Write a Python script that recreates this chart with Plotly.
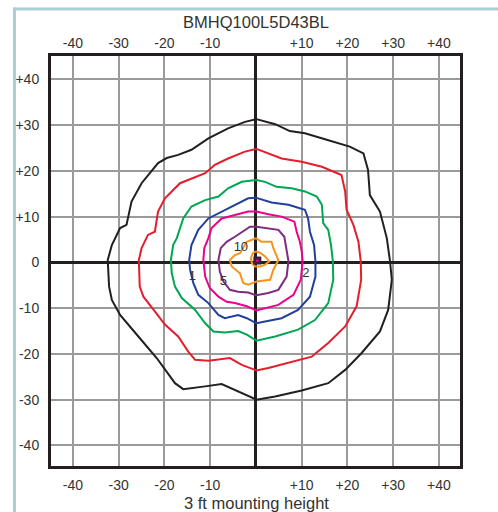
import plotly.graph_objects as go

# контуры освещённости (фут-свечи), координаты в футах
black_x = [0.1, 4.2, 7.4, 10.7, 15.1, 20.5, 23.5, 24.5, 24.9, 27.1, 28.6, 29.3, 29.7, 28.9, 27.1, 23.1, 19.5, 15.8, 10.0, 4.2, 0.1,
           -3.1, -7.5, -11.1, -15.9, -17.7, -19.9, -21.7, -25.7, -29.7, -31.5, -32.1, -32.4, -31.5, -29.7, -28.3, -27.2, -25.0,
           -21.4, -19.5, -17.0, -14.1, -10.4, -6.1, -2.4, 0.1]
black_y = [31.3, 30.2, 28.7, 28.2, 26.9, 25.3, 23.8, 20.2, 14.7, 11.1, 5.3, 0.3, -3.8, -10.4, -15.1, -19.8, -23.5, -26.4, -28.0, -29.3, -30.0,
           -28.6, -26.6, -27.1, -27.7, -26.4, -23.5, -20.9, -16.2, -11.5, -8.2, -5.3, 0.5, 3.8, 7.5, 8.2, 13.3, 17.3,
           21.7, 22.8, 23.5, 24.6, 27.1, 29.3, 30.7, 31.3]

red_x = [0.1, 2.7, 5.6, 10.0, 14.4, 18.7, 19.5, 19.8, 21.3, 22.4, 22.9, 23.0, 22.0, 19.5, 15.8, 12.2, 7.1, 2.7, 0.1,
         -3.1, -5.7, -8.2, -10.4, -13.3, -14.8, -17.0, -19.9, -22.1, -24.6, -25.4, -25.6, -25.0, -23.6, -22.1, -21.4, -19.9,
         -16.6, -11.1, -9.0, -6.1, -2.4, 0.1]
red_y = [24.8, 23.8, 22.7, 22.0, 20.9, 19.1, 15.5, 11.5, 8.2, 4.5, 0.3, -3.8, -9.6, -14.0, -17.6, -20.6, -22.0, -23.1, -23.6,
         -22.4, -20.9, -21.3, -21.5, -21.3, -19.5, -16.2, -13.6, -10.7, -7.5, -5.3, 0.5, 3.1, 6.0, 6.7, 11.1, 14.0,
         17.3, 19.5, 21.3, 22.7, 24.2, 24.8]

green_x = [0.1, 2.0, 4.5, 7.8, 10.7, 13.3, 14.4, 14.7, 15.8, 16.4, 16.8, 16.9, 15.8, 12.9, 9.2, 4.2, 0.1,
           -2.0, -3.9, -6.8, -9.3, -11.1, -13.3, -16.2, -17.7, -18.4, -18.6, -18.1, -17.3, -15.9, -14.1, -11.1, -8.2,
           -6.1, -3.1, 0.1]
green_y = [18.0, 17.6, 16.5, 16.2, 15.5, 14.4, 12.6, 8.6, 7.1, 3.8, 0.3, -3.8, -8.9, -12.6, -14.7, -16.2, -17.1,
           -15.8, -15.0, -15.3, -15.1, -13.3, -10.4, -7.8, -5.3, -2.4, 0.5, 3.8, 5.3, 9.6, 12.2, 13.6, 14.4,
           16.2, 17.6, 18.0]

blue_x = [0.1, 3.4, 7.1, 10.7, 11.4, 11.8, 12.7, 13.0, 13.0, 11.8, 9.2, 5.6, 0.1,
          -2.0, -3.9, -6.8, -8.2, -10.4, -12.6, -13.7, -14.4, -14.6, -14.1, -12.6, -10.4, -7.5, -4.6, -1.7, 0.1]
blue_y = [14.1, 13.1, 12.6, 11.5, 9.6, 6.7, 3.8, 0.3, -3.1, -7.5, -10.4, -12.2, -13.3,
          -12.2, -11.5, -12.2, -11.5, -8.9, -7.1, -4.5, -1.6, 0.5, 3.8, 7.1, 9.6, 11.1, 12.6, 14.0, 14.1]

magenta_x = [0.1, 2.7, 5.6, 8.4, 8.9, 9.6, 10.0, 10.2, 9.8, 8.2, 4.9, 0.1,
             -2.0, -4.6, -6.4, -8.2, -10.1, -11.1, -11.5, -11.3, -10.4, -9.7, -7.5, -4.6, -1.7, 0.1]
magenta_y = [11.1, 10.5, 10.0, 8.9, 6.7, 4.5, 2.4, 0.3, -3.8, -7.1, -9.3, -10.5,
             -9.6, -8.9, -8.6, -7.5, -5.6, -3.1, 0.5, 3.1, 5.3, 7.5, 9.6, 10.4, 11.1, 11.1]

purple_x = [0.1, 2.3, 4.9, 6.2, 6.7, 7.1, 6.7, 4.9, 2.7, 0.1,
            -1.7, -3.9, -5.7, -7.1, -7.9, -8.2, -7.7, -6.4, -4.6, -2.8, -1.3, 0.1]
purple_y = [7.8, 7.5, 7.1, 5.6, 3.1, 0.3, -3.1, -6.0, -6.7, -7.2,
            -6.6, -6.4, -6.0, -4.2, -2.0, 0.5, 3.1, 4.5, 5.6, 6.7, 7.8, 7.8]

orange_x = [0.0, 1.2, 3.4, 3.8, 4.9, 3.8, 3.1, 0.1, -1.7, -2.8, -3.5, -5.3, -5.7, -4.6, -3.5, -2.0, 0.0]
orange_y = [5.3, 4.5, 4.5, 3.1, 0.5, -1.6, -3.8, -4.2, -4.9, -4.5, -2.4, -0.9, 0.5, 1.6, 2.0, 4.5, 5.3]

orange_in_x = [0.0, 0.9, 2.0, 2.9, 2.0, 0.9, -0.2, -0.9, -1.1, -0.7, 0.0]
orange_in_y = [2.4, 2.1, 1.3, 0.2, -0.5, -0.9, -0.9, -0.2, 0.9, 2.0, 2.4]

contours = [
    (black_x, black_y, "#231f20"),
    (red_x, red_y, "#e31e2d"),
    (green_x, green_y, "#00a651"),
    (blue_x, blue_y, "#21409a"),
    (magenta_x, magenta_y, "#ec008c"),
    (purple_x, purple_y, "#7f2c7f"),
    (orange_x, orange_y, "#f7941d"),
    (orange_in_x, orange_in_y, "#f7941d"),
]

# подписи уровней
label_text = ["10", "1", "5", "2"]
label_x = [-3.3, -13.9, -7.1, 10.9]
label_y = [3.3, -3.1, -4.2, -2.5]

ticks = [-40, -30, -20, -10, 10, 20, 30, 40]
tick_text = ["-40", "-30", "-20", "-10", "+10", "+20", "+30", "+40"]
yticks = [-40, -30, -20, -10, 0, 10, 20, 30, 40]
ytick_text = ["-40", "-30", "-20", "-10", "0", "+10", "+20", "+30", "+40"]

fig = go.Figure()

for cx, cy, col in contours:
    fig.add_trace(go.Scatter(x=cx, y=cy, mode="lines", line=dict(color=col, width=2),
                             hoverinfo="skip", showlegend=False))

fig.add_trace(go.Scatter(x=[0.3], y=[0.4], mode="markers",
                         marker=dict(symbol="square", size=8, color="#3b1f3b"), showlegend=False))
fig.add_trace(go.Scatter(x=[0.3], y=[0.4], mode="markers",
                         marker=dict(symbol="circle", size=3, color="#ec008c"), showlegend=False))

fig.add_trace(go.Scatter(x=label_x, y=label_y, mode="text", text=label_text,
                         textfont=dict(size=13, color="#333333"), showlegend=False))

fig.add_trace(go.Scatter(x=[0], y=[0], xaxis="x2", mode="markers",
                         marker=dict(opacity=0), showlegend=False, hoverinfo="skip"))

font = dict(family="Liberation Sans, Arial, sans-serif", size=14, color="#333333")

W, H = 498, 512
L, T, B = 51, 56, 466  # края области построения в пикселях
PW, PH = 409, 410


def px(x):
    return (x - L) / PW


def py(y):
    return (B - y) / PH


fig.update_layout(
    width=W, height=H,
    margin=dict(l=L, r=W - L - PW, t=T, b=H - B, autoexpand=False),
    paper_bgcolor="white", plot_bgcolor="white",
    font=font,
    title=dict(text="BMHQ100L5D43BL", x=256 / W, xanchor="center", y=1 - 22 / H, yanchor="middle",
               font=dict(size=16.5, color="#333333")),
    xaxis=dict(range=[-44.8, 44.6], tickvals=ticks, ticktext=tick_text, automargin=False,
               showgrid=True, gridcolor="#9a9a9a", gridwidth=1.5,
               zeroline=True, zerolinecolor="#231f20", zerolinewidth=2.5,
               showline=True, linecolor="#231f20", linewidth=3, mirror=True,
               ticks="outside", ticklen=4, tickcolor="rgba(0,0,0,0)", fixedrange=True),
    xaxis2=dict(range=[-44.8, 44.6], tickvals=ticks, ticktext=tick_text, overlaying="x", side="top",
                automargin=False, showgrid=False, zeroline=False,
                ticks="outside", ticklen=1, tickcolor="rgba(0,0,0,0)"),
    yaxis=dict(range=[-44.5, 45.1], tickvals=yticks, ticktext=ytick_text, automargin=False,
               showgrid=True, gridcolor="#9a9a9a", gridwidth=1.5,
               zeroline=True, zerolinecolor="#231f20", zerolinewidth=2.5,
               showline=True, linecolor="#231f20", linewidth=3, mirror=True,
               ticks="outside", ticklen=6, tickcolor="rgba(0,0,0,0)", fixedrange=True),
    annotations=[dict(text="3 ft mounting height", xref="paper", yref="paper", x=px(256),
                      y=py(503), xanchor="center", yanchor="middle", showarrow=False,
                      font=dict(size=16.5, color="#333333"))],
    shapes=[
        dict(type="rect", xref="paper", yref="paper", x0=px(13), x1=px(16), y0=py(7.5), y1=py(515),
             fillcolor="#a9ced6", line=dict(width=0), layer="above"),
        dict(type="rect", xref="paper", yref="paper", x0=px(13), x1=px(498), y0=py(7.5), y1=py(10.5),
             fillcolor="#a9ced6", line=dict(width=0), layer="above"),
    ],
)

# убираем отступ body, чтобы график встал ровно в (0, 0)
fix_page = "document.body.style.margin='0';"
fig.write_html("out.html", post_script=fix_page, config={"displayModeBar": False})
